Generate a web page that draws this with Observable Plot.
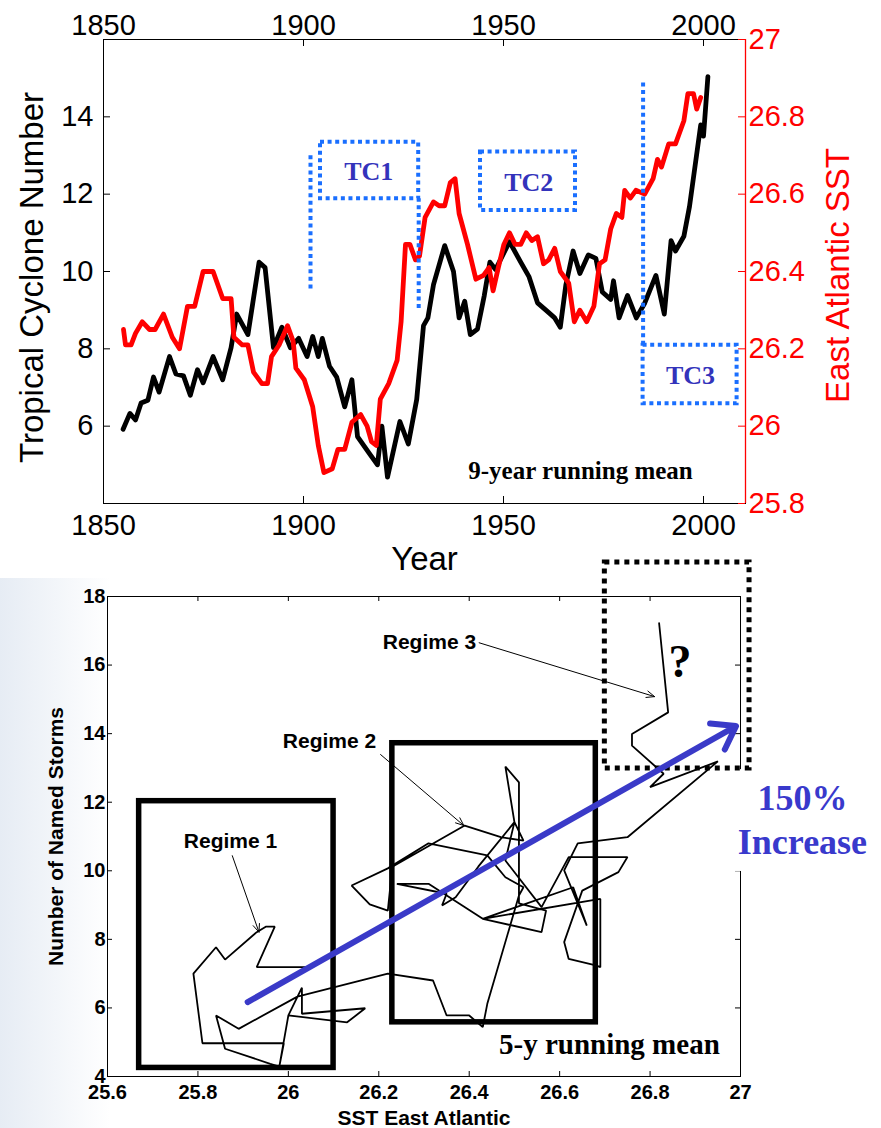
<!DOCTYPE html>
<html><head><meta charset="utf-8">
<script src="https://cdn.jsdelivr.net/npm/d3@7"></script>
<script src="https://cdn.jsdelivr.net/npm/@observablehq/plot@0.6"></script>
<style>
html,body{margin:0;padding:0;background:#fff;}
#wrap{position:relative;width:881px;height:1128px;overflow:hidden;background:#fff;}
#top,#bottom{position:absolute;left:0;}
#top{top:0;}
#bottom{top:548px;}
#bg{position:absolute;left:0;top:578px;width:110px;height:550px;background:linear-gradient(to right,#e6ecf4,rgba(255,255,255,0));}
svg{overflow:visible;}
</style></head><body>
<div id="wrap"><div id="bg"></div><div id="top"></div><div id="bottom"></div></div>
<script>
// ---------- TOP CHART DATA ----------
const yearTicks = [1850, 1900, 1950, 2000];
const tcTicks = [6, 8, 10, 12, 14];
const sstTickLabels = ["25.8", "26", "26.2", "26.4", "26.6", "26.8", "27"];
const sstTicks = [25.8, 26.0, 26.2, 26.4, 26.6, 26.8, 27.0];

const tcYears = [1854.9,1856.6,1858,1859.4,1861.1,1862.5,1863.9,1866.5,1868.1,1870,1871.7,1873.5,1874.9,1877.4,1879.8,1881.9,1883.3,1886.1,1888.9,1890.4,1892.5,1894.6,1896.7,1898.8,1900.9,1902.3,1903.7,1904.7,1906.5,1908.3,1910.3,1912.1,1913.5,1916.4,1918.5,1919.6,1921,1924.1,1926.2,1928.3,1930,1931.1,1932.5,1935.3,1937.5,1938.9,1940.3,1941.7,1943.5,1945.2,1946.6,1948,1951.5,1954.3,1956.4,1958.5,1960.6,1962.8,1964.2,1965.6,1967.4,1969.1,1971.2,1973.1,1974.7,1976.8,1977.5,1978.9,1981,1983.2,1985.3,1988.1,1990.2,1991.9,1993,1995.1,1996.5,1999.3,2000,2001.1];
const tcValues = [5.92,6.33,6.16,6.6,6.67,7.27,6.88,7.8,7.35,7.3,6.8,7.46,7.12,7.8,7.2,8.03,8.9,8.37,10.24,10.1,8.03,8.56,8.03,8.27,7.8,8.32,7.8,8.27,7.55,7.27,6.5,7.2,5.73,5.3,5.0,6.0,4.68,6.12,5.54,6.69,8.6,8.8,9.66,10.67,10.0,8.8,9.23,8.37,8.51,9.38,10.24,10.05,10.77,10.24,9.86,9.19,9.0,8.8,8.56,9.66,10.53,9.95,10.43,10.34,9.47,9.28,9.76,8.8,9.38,8.8,9.18,9.9,8.9,10.8,10.53,10.91,11.68,13.79,13.5,15.04];

const sstYears = [1855,1855.5,1856.9,1858,1859.7,1861.5,1862.9,1865,1867.2,1869,1871,1872.8,1874.9,1877.4,1879.8,1881.9,1882.6,1884.7,1886.1,1887.5,1889.6,1891,1892,1893.9,1896,1897.4,1898.1,1900.2,1902.3,1903.7,1905.1,1907.2,1908.6,1910.3,1912.1,1914.3,1915.9,1917,1918.2,1919.2,1921.3,1923.4,1924.4,1925.5,1926.6,1928,1929,1930.4,1932.5,1933.9,1935.3,1936.7,1937.9,1938.9,1941,1943.1,1945,1946.4,1947.4,1948.7,1950.1,1951.5,1952.9,1954.3,1955.7,1957.1,1958.5,1960,1961.3,1962.8,1964.2,1966.3,1967.7,1969.1,1970.8,1972.6,1974,1975.4,1976.8,1978.2,1979.6,1980.3,1981.7,1983.1,1985.3,1987.4,1988.5,1989.5,1991.3,1993,1995.1,1996.1,1997.5,1998.3,1999.3];
const sstValues = [26.25,26.21,26.21,26.24,26.27,26.25,26.25,26.29,26.23,26.2,26.31,26.31,26.40,26.40,26.33,26.33,26.23,26.21,26.21,26.14,26.11,26.11,26.18,26.21,26.26,26.22,26.15,26.12,26.05,25.95,25.88,25.89,25.94,25.94,26.01,26.03,26.0,25.96,25.95,26.07,26.11,26.17,26.27,26.47,26.47,26.43,26.44,26.54,26.58,26.57,26.57,26.63,26.64,26.55,26.47,26.38,26.39,26.41,26.35,26.41,26.47,26.50,26.47,26.47,26.50,26.48,26.49,26.42,26.43,26.46,26.40,26.37,26.27,26.30,26.27,26.31,26.42,26.43,26.51,26.55,26.54,26.61,26.59,26.61,26.60,26.64,26.69,26.67,26.73,26.73,26.79,26.86,26.86,26.82,26.85];

// TC annotation boxes (year, cyclone number units)
const tcBoxLabels = ["TC1", "TC2", "TC3"];
const tcBoxX1 = [1904.25, 1944.25, 1984.9];
const tcBoxX2 = [1928.8, 1968.0, 2008.4];
const tcBoxY1 = [11.88, 11.58, 6.58];
const tcBoxY2 = [13.34, 13.09, 8.09];
const tcLabelX = [1916.3, 1956.3, 1996.75];
const tcLabelY = [12.57, 12.31, 7.31];
const tcLineX = [1901.75, 1928.8, 1984.9];
const tcLineY1 = [9.55, 9.04, 8.09];
const tcLineY2 = [13.04, 11.88, 14.94];

// ---------- BOTTOM CHART DATA ----------
const sstAxisTicks = [25.6, 25.8, 26.0, 26.2, 26.4, 26.6, 26.8, 27.0];
const stormTicks = [4, 6, 8, 10, 12, 14, 16, 18];
const pathSST = [26.04,25.93,25.97,25.95,25.93,25.86,25.84,25.79,25.81,25.99,25.98,26.00,26.03,26.03,26.17,26.13,26.00,25.98,25.96,25.86,25.84,25.89,26.02,26.22,26.32,26.35,26.40,26.43,26.44,26.51,26.52,
  26.48,26.44,26.31,26.22,26.14,26.18,26.22,26.23,26.39,26.47,26.52,26.50,26.42,26.37,26.34,26.35,26.24,26.31,26.43,26.56,26.57,26.51,26.51,26.48,26.50,26.48,26.56,26.62,26.75,26.73,26.65,26.61,26.62,26.68,26.69,26.69,26.43,26.63,26.66,26.61,26.64,26.75,
  26.95,26.80,26.83,26.76,26.76,26.84,26.82];
const pathStorms = [7.19,7.19,8.37,8.37,8.21,7.41,7.77,7.00,4.97,4.97,4.29,5.78,6.59,5.83,5.99,5.58,5.78,4.29,4.37,4.81,5.78,5.39,6.33,7.00,6.80,5.78,5.78,5.44,6.12,9.28,9.52,
  9.81,10.45,10.80,10.07,9.57,9.02,8.84,10.12,11.32,10.98,10.88,11.42,10.12,9.23,8.99,9.33,9.62,9.62,8.60,8.21,8.84,9.05,12.58,13.04,11.42,10.30,8.94,10.40,10.40,9.96,9.42,7.92,7.43,7.24,7.19,9.18,8.60,9.52,8.40,10.01,10.80,10.98,
  13.19,12.44,12.83,13.65,13.99,14.62,17.22];

const regimeNames = ["Regime 1", "Regime 2", "Regime 3"];
const regimeLabelX = [25.872, 26.091, 26.312];
const regimeLabelY = [10.85, 13.77, 16.66];
const regimeArrowX1 = [25.876, 26.204, 26.422];
const regimeArrowY1 = [10.44, 13.39, 16.65];
const regimeArrowX2 = [25.935, 26.388, 26.81];
const regimeArrowY2 = [8.21, 11.32, 15.08];
const regimeBoxX1 = [25.67, 26.23];
const regimeBoxX2 = [26.10, 26.68];
const regimeBoxY1 = [4.25, 5.58];
const regimeBoxY2 = [12.03, 13.72];
const questionBox = {x1: 26.70, x2: 27.02, y1: 12.98, y2: 18.99};
const trendArrow = {x1: 25.91, y1: 6.17, x2: 26.99, y2: 14.22};

// ---------- STYLES ----------
const sans = "'Liberation Sans', Arial, Helvetica, sans-serif";
const serif = "'Liberation Serif', 'Times New Roman', Times, serif";
const dotBlue = "#1a6fff";

// ---------- TOP CHART ----------
const W = 881;
const topH = 580;
const tm = {top: 39, right: 136, bottom: 77, left: 103};
const topInnerH = topH - tm.top - tm.bottom;
const topInnerW = W - tm.left - tm.right;
const xDom = [1850, 2010.5];
const sstToTc = s => 4 + (s - 25.8) * 10;

const tcData = tcYears.map((y, i) => ({year: y, v: tcValues[i]}));
const sstData = sstYears.map((y, i) => ({year: y, v: sstToTc(sstValues[i])}));
const tcBoxes = tcBoxLabels.map((t, i) => ({t, x1: tcBoxX1[i], x2: tcBoxX2[i], y1: tcBoxY1[i], y2: tcBoxY2[i], lx: tcLabelX[i], ly: tcLabelY[i]}));
const tcLines = tcLineX.map((x, i) => ({x, y1: tcLineY1[i], y2: tcLineY2[i]}));
const sstTickPos = sstTicks.map(sstToTc);

const topPlot = Plot.plot({
  width: W, height: topH,
  marginTop: tm.top, marginRight: tm.right, marginBottom: tm.bottom, marginLeft: tm.left,
  x: {domain: xDom},
  y: {domain: [4, 16]},
  style: {background: "transparent", overflow: "visible", fontFamily: sans, color: "black"},
  marks: [
    Plot.frame({stroke: "black", strokeWidth: 1}),
    Plot.ruleX([xDom[1]], {stroke: "red", strokeWidth: 1.3}),
    Plot.ruleX(yearTicks, {insetTop: topInnerH - 7, stroke: "black"}),
    Plot.ruleX(yearTicks, {insetBottom: topInnerH - 7, stroke: "black"}),
    Plot.ruleY(tcTicks, {insetRight: topInnerW - 7, stroke: "black"}),
    Plot.ruleY(sstTickPos, {insetLeft: topInnerW - 7, stroke: "red"}),
    Plot.axisX({anchor: "top", ticks: yearTicks, tickSize: 0, tickPadding: 5, fontSize: 29, label: null, tickFormat: d => String(d)}),
    Plot.axisX({anchor: "bottom", ticks: yearTicks, tickSize: 0, tickPadding: 11, fontSize: 29, label: null, tickFormat: d => String(d)}),
    Plot.axisY({anchor: "left", ticks: tcTicks, tickSize: 0, tickPadding: 10, fontSize: 29, label: null, tickFormat: d => String(d)}),
    Plot.axisY({anchor: "right", ticks: sstTickPos, tickSize: 0, tickPadding: 3, fontSize: 29, label: null, fill: "red",
      tickFormat: (d) => sstTickLabels[sstTickPos.findIndex(p => Math.abs(p - d) < 1e-6)]}),
    Plot.line(tcData, {x: "year", y: "v", stroke: "black", strokeWidth: 4.8, strokeLinejoin: "round"}),
    Plot.line(sstData, {x: "year", y: "v", stroke: "#ff0000", strokeWidth: 4.8, strokeLinejoin: "round"}),
    Plot.rect(tcBoxes, {x1: "x1", x2: "x2", y1: "y1", y2: "y2", fill: "none", stroke: dotBlue, strokeWidth: 4, strokeDasharray: "4,3.6"}),
    Plot.ruleX(tcLines, {x: "x", y1: "y1", y2: "y2", stroke: dotBlue, strokeWidth: 4, strokeDasharray: "4,3.6"}),
    Plot.text(tcBoxes, {x: "lx", y: "ly", text: "t", fontFamily: serif, fontWeight: "bold", fontSize: 26, fill: "#3333bb"}),
    Plot.text(["9-year running mean"], {x: 1969.25, y: 4.85, text: d => d, fontFamily: serif, fontWeight: "bold", fontSize: 25, fill: "black"}),
    Plot.text(["Year"], {frameAnchor: "bottom", dy: 56, lineAnchor: "middle", textAnchor: "middle", text: d => d, fontSize: 33, fill: "black"}),
    Plot.text(["Tropical Cyclone Number"], {frameAnchor: "left", dx: -71, dy: 6, rotate: -90, textAnchor: "middle", lineAnchor: "middle", text: d => d, fontSize: 33, fill: "black"}),
    Plot.text(["East Atlantic SST"], {frameAnchor: "right", dx: 93, dy: 4, rotate: -90, textAnchor: "middle", lineAnchor: "middle", text: d => d, fontSize: 33, fill: "red"})
  ]
});
document.getElementById("top").appendChild(topPlot);

// ---------- BOTTOM CHART ----------
const botH = 580;
const bm = {top: 48, right: 141, bottom: 52, left: 107};
const botInnerH = botH - bm.top - bm.bottom;
const botInnerW = W - bm.left - bm.right;
const pathData = pathSST.map((s, i) => ({s, n: pathStorms[i]}));
const regimeBoxes = regimeBoxX1.map((x, i) => ({x1: x, x2: regimeBoxX2[i], y1: regimeBoxY1[i], y2: regimeBoxY2[i]}));
const regimeLabels = regimeNames.map((t, i) => ({t, x: regimeLabelX[i], y: regimeLabelY[i]}));
const regimeArrows = regimeNames.map((t, i) => ({x1: regimeArrowX1[i], y1: regimeArrowY1[i], x2: regimeArrowX2[i], y2: regimeArrowY2[i]}));
const fmt1 = d => String(+d.toFixed(1));

const botPlot = Plot.plot({
  width: W, height: botH,
  marginTop: bm.top, marginRight: bm.right, marginBottom: bm.bottom, marginLeft: bm.left,
  x: {domain: [25.6, 27]},
  y: {domain: [4, 18]},
  style: {background: "transparent", overflow: "visible", fontFamily: sans, color: "black"},
  marks: [
    Plot.frame({stroke: "black", strokeWidth: 1}),
    Plot.ruleX(sstAxisTicks, {insetTop: botInnerH - 5, stroke: "black"}),
    Plot.ruleX(sstAxisTicks, {insetBottom: botInnerH - 5, stroke: "black"}),
    Plot.ruleY(stormTicks, {insetRight: botInnerW - 5, stroke: "black"}),
    Plot.ruleY(stormTicks, {insetLeft: botInnerW - 5, stroke: "black"}),
    Plot.axisX({anchor: "bottom", ticks: sstAxisTicks, tickSize: 0, tickPadding: 8, fontSize: 20, fontWeight: "bold", label: null, tickFormat: fmt1}),
    Plot.axisY({anchor: "left", ticks: stormTicks, tickSize: 0, tickPadding: 2, fontSize: 20, fontWeight: "bold", label: null, tickFormat: fmt1}),
    Plot.rect([{x1: 26.985, x2: 27.4, y1: 9.98, y2: 12.95}], {x1: "x1", x2: "x2", y1: "y1", y2: "y2", fill: "white"}),
    Plot.rect(regimeBoxes, {x1: "x1", x2: "x2", y1: "y1", y2: "y2", fill: "none", stroke: "black", strokeWidth: 5.5}),
    Plot.line(pathData, {x: "s", y: "n", stroke: "black", strokeWidth: 1.8, strokeLinejoin: "miter"}),
    Plot.rect([questionBox], {x1: "x1", x2: "x2", y1: "y1", y2: "y2", fill: "none", stroke: "black", strokeWidth: 5, strokeDasharray: "5,5"}),
    Plot.arrow(regimeArrows, {x1: "x1", y1: "y1", x2: "x2", y2: "y2", stroke: "black", strokeWidth: 1, headLength: 13, headAngle: 45}),
    Plot.arrow([trendArrow], {x1: "x1", y1: "y1", x2: "x2", y2: "y2", stroke: "#3a3ac8", strokeWidth: 6, headLength: 6.5, headAngle: 70}),
    Plot.text(regimeLabels, {x: "x", y: "y", text: "t", fontSize: 21, fontWeight: "bold", fill: "black"}),
    Plot.text(["?"], {x: 26.866, y: 16.08, text: d => d, fontFamily: serif, fontWeight: "bold", fontSize: 46, fill: "black"}),
    Plot.text(["5-y running mean"], {x: 26.71, y: 4.93, text: d => d, fontFamily: serif, fontWeight: "bold", fontSize: 29, fill: "black"}),
    Plot.text(["150%"], {x: 27.137, y: 12.12, text: d => d, fontFamily: serif, fontWeight: "bold", fontSize: 36, fill: "#3939cc"}),
    Plot.text(["Increase"], {x: 27.137, y: 10.82, text: d => d, fontFamily: serif, fontWeight: "bold", fontSize: 36, fill: "#3939cc"}),
    Plot.text(["Number of Named Storms"], {frameAnchor: "left", dx: -51, rotate: -90, textAnchor: "middle", lineAnchor: "middle", text: d => d, fontSize: 21, fontWeight: "bold", fill: "black"}),
    Plot.text(["SST East Atlantic"], {frameAnchor: "bottom", dy: 42, textAnchor: "middle", lineAnchor: "middle", text: d => d, fontSize: 21, fontWeight: "bold", fill: "black"})
  ]
});
document.getElementById("bottom").appendChild(botPlot);
</script>
</body></html>
